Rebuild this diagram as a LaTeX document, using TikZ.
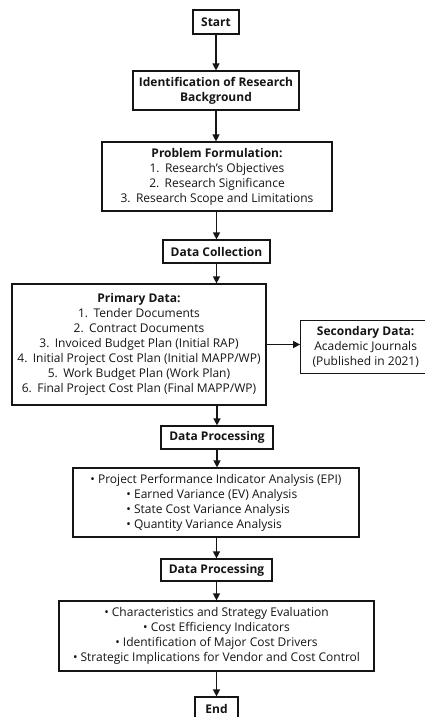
\documentclass[tikz,border=0pt]{standalone}
\usepackage{fontspec}
\setmainfont{Open Sans}
\usetikzlibrary{arrows.meta}
\definecolor{ink}{HTML}{151515}
\newcommand{\itm}[1]{#1.\hspace{0.45em}}
\begin{document}
\begin{tikzpicture}[x=1pt,y=-1pt,
  box/.style={draw=ink, line width=1.2pt, fill=white, text=ink, align=center,
    inner sep=2pt, font=\fontsize{12}{15}\selectfont},
  arr/.style={draw=ink, line width=1.3pt, -{Triangle[length=7pt,width=7pt]}}]
\useasboundingbox[fill=white] (0,0) rectangle (425,717);

\node[box, minimum width=46pt, minimum height=24pt] (start) at (216,22) {\textbf{Start}};
\node[box, minimum width=166pt, minimum height=39pt] (ident) at (216,90.5)
  {\textbf{Identification of Research}\\\textbf{Background}};
\node[box, minimum width=230pt, minimum height=69pt] (prob) at (217,176.5)
  {\textbf{Problem Formulation:}\\\itm{1}Research's Objectives\\\itm{2}Research Significance\\\itm{3}Research Scope and Limitations};
\node[box, minimum width=107pt, minimum height=23pt] (coll) at (216.5,251.5) {\textbf{Data Collection}};
\node[box, minimum width=254pt, minimum height=121pt] (prim) at (139,344.5)
  {\textbf{Primary Data:}\\\itm{1}Tender Documents\\\itm{2}Contract Documents\\\itm{3}Invoiced Budget Plan (Initial RAP)\\\itm{4}Initial Project Cost Plan (Initial MAPP/WP)\\\itm{5}Work Budget Plan (Work Plan)\\\itm{6}Final Project Cost Plan (Final MAPP/WP)};
\node[box, minimum width=130pt, minimum height=53pt] (sec) at (365.7,347)
  {\textbf{Secondary Data:}\\Academic Journals\\(Published in 2021)};
\node[box, minimum width=112pt, minimum height=23pt] (dp1) at (217,437.5) {\textbf{Data Processing}};
\node[box, minimum width=286pt, minimum height=69pt] (epi) at (216,502.5) {};
\node[text=ink, align=left, inner sep=0pt, font=\fontsize{12}{15}\selectfont] (epit) at (epi.center)
  {• Project Performance Indicator Analysis (EPI)\\
   \hspace*{36pt}• Earned Variance (EV) Analysis\\
   \hspace*{36pt}• State Cost Variance Analysis\\
   \hspace*{36pt}• Quantity Variance Analysis};
\node[box, minimum width=111pt, minimum height=22pt] (dp2) at (216.5,570) {\textbf{Data Processing}};
\node[box, minimum width=315pt, minimum height=70pt] (fin) at (216.5,636)
  {• Characteristics and Strategy Evaluation\\• Cost Efficiency Indicators\\• Identification of Major Cost Drivers\\• Strategic Implications for Vendor and Cost Control};
\node[box, minimum width=43pt, minimum height=24pt] (end) at (216.5,709) {\textbf{End}};

\draw[arr] (start) -- (ident);
\draw[arr] (ident) -- (ident.south |- prob.north);
\draw[arr] (prob.south -| coll.north) -- (coll.north);
\draw[arr] (coll) -- (coll.south |- prim.north);
\draw[arr] (prim.east) -- (prim.east -| sec.west);
\draw[arr] (dp1.north |- prim.south) -- (dp1.north);
\draw[arr] (dp1) -- (dp1.south |- epi.north);
\draw[arr] (dp2.north |- epi.south) -- (dp2.north);
\draw[arr] (dp2) -- (dp2.south |- fin.north);
\draw[arr] (end.north |- fin.south) -- (end.north);
\end{tikzpicture}
\end{document}
